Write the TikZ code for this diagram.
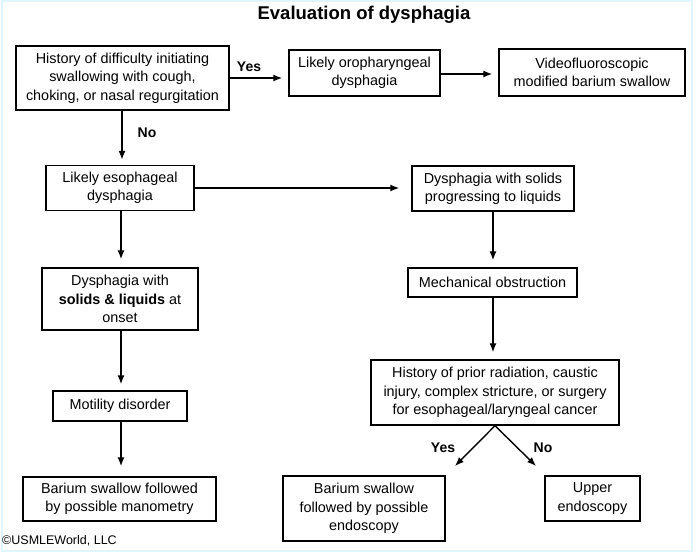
\documentclass[tikz,border=0pt]{standalone}
\usepackage{fontspec}
\setmainfont{Liberation Sans}
\usetikzlibrary{arrows.meta}
\begin{document}
\begin{tikzpicture}[x=1pt,y=-1pt,
  box/.style={draw,line width=1.4pt,align=center,inner sep=0pt,
    font=\fontsize{14.4}{18.3}\selectfont},
  arr/.style={line width=1.4pt,-{Latex[length=9pt,width=7pt]}},
  lbl/.style={font=\bfseries\fontsize{14}{17}\selectfont,inner sep=0pt}]
\useasboundingbox (0,0) rectangle (697,554);
\draw[cyan!12, line width=2pt] (2,1) rectangle (692,551);
\node[font=\bfseries\fontsize{18.5}{22}\selectfont] (title) at (364,15) {Evaluation of dysphagia};
\node[box,minimum width=213pt,minimum height=64pt] (A) at (122.5,78)
  {History of difficulty initiating\\swallowing with cough,\\choking, or nasal regurgitation};
\node[box,minimum width=151pt,minimum height=46pt] (B) at (364.5,73)
  {Likely oropharyngeal\\dysphagia};
\node[box,minimum width=186pt,minimum height=47pt] (C) at (592,72.5)
  {Videofluoroscopic\\modified barium swallow};
\node[box,minimum width=148pt,minimum height=45pt] (D) at (120,188)
  {Likely esophageal\\dysphagia};
\node[box,minimum width=162pt,minimum height=45pt] (E) at (493,188.5)
  {Dysphagia with solids\\progressing to liquids};
\node[box,minimum width=156pt,minimum height=62pt] (F) at (120,299)
  {Dysphagia with\\\textbf{solids \& liquids} at\\onset};
\node[box,minimum width=134pt,minimum height=30pt] (G) at (120,406)
  {Motility disorder};
\node[box,minimum width=193pt,minimum height=44pt] (H) at (119.5,499)
  {Barium swallow followed\\by possible manometry};
\node[box,minimum width=169pt,minimum height=29pt] (I) at (492.5,282.5)
  {Mechanical obstruction};
\node[box,minimum width=248pt,minimum height=65pt] (J) at (495,392.5)
  {History of prior radiation, caustic\\injury, complex stricture, or surgery\\for esophageal/laryngeal cancer};
\node[box,minimum width=162pt,minimum height=65pt] (K) at (364,508.5)
  {Barium swallow\\followed by possible\\endoscopy};
\node[box,minimum width=95pt,minimum height=45pt] (L) at (592.5,498.5)
  {Upper\\endoscopy};
\coordinate (yesend) at (455,466);
\coordinate (noend) at (536,466);
\draw[arr,shorten >=6pt] (A.east |- 0,78) -- (B.west |- 0,78);
\node[lbl] (yes1) at (249,67) {Yes};
\draw[arr,shorten >=6pt] (B.east |- 0,74) -- (C.west |- 0,74);
\draw[arr,shorten >=5pt] (A.south -| 122,0) -- (D.north -| 122,0);
\node[lbl] (no1) at (147,133) {No};
\draw[arr,shorten >=12pt] (D.east |- 0,188) -- (E.west |- 0,188);
\draw[arr,shorten >=8pt] (D.south -| 121,0) -- (F.north -| 121,0);
\draw[arr,shorten >=6pt] (F.south -| 121,0) -- (G.north -| 121,0);
\draw[arr,shorten >=10pt] (G.south -| 121,0) -- (H.north -| 121,0);
\draw[arr,shorten >=7pt] (E.south -| 493,0) -- (I.north -| 493,0);
\draw[arr,shorten >=7pt] (I.south -| 493,0) -- (J.north -| 493,0);
\draw[arr] (J.south) -- (yesend);
\draw[arr] (J.south) -- (noend);
\node[lbl] (yes2) at (443,448) {Yes};
\node[lbl] (no2) at (543,448) {No};
\node[anchor=west,inner sep=0pt,font=\fontsize{12.5}{14}\selectfont] (copy) at (2,541) {©USMLEWorld, LLC};
\end{tikzpicture}
\end{document}
